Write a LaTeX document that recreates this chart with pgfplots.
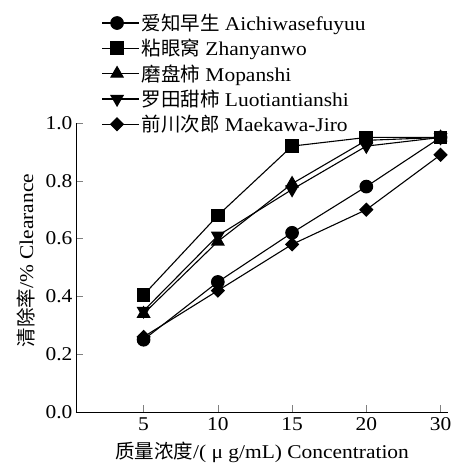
\documentclass[border=0pt]{standalone}
\usepackage{fontspec}
\setmainfont{Liberation Serif}[FakeStretch=1.1]
\newfontfamily\cjk{Noto Sans CJK SC}
\usepackage{pgfplots}
\pgfplotsset{compat=1.18}
\newcommand\fs{\fontsize{19.5}{22}\selectfont}
\begin{document}
\begin{tikzpicture}
\begin{axis}[
  scale only axis, width=372pt, height=289pt,
  axis lines=left,
  x axis line style={-}, y axis line style={-},
  xmin=0.09, xmax=5.1, ymin=0, ymax=1.0,
  xtick={1,2,3,4,5}, xticklabels={5,10,15,20,30},
  ytick={0,0.2,0.4,0.6,0.8,1.0},
  yticklabel style={/pgf/number format/.cd, fixed, fixed zerofill, precision=1},
  xticklabel style={yshift=-2pt},
  /pgf/number format/assume math mode=true,
  tick align=inside, major tick length=7pt,
  tick label style={font=\fs},
  label style={font=\fs},
  xlabel={{\cjk 质量浓度}/( μ g/mL) Concentration},
  ylabel={{\cjk 清除率}/\% Clearance},
  ylabel style={yshift=4pt, xshift=7pt},
  xlabel style={yshift=-4pt},
  legend cell align=left,
  legend style={draw=none, fill=none, font=\fs, anchor=south west,
    at={(axis description cs:0.06,0.95)}, row sep=3.3pt},
  legend image code/.code={\draw[mark repeat=2,mark phase=2] plot coordinates {(0pt,0pt)(15pt,0pt)(30pt,0pt)}; \path (30pt,0pt) -- (37pt,0pt);},
  clip=false,
]
\addplot[black, line width=1.1pt, mark=*, mark size=6.3pt, mark options={fill=black}] coordinates {(1,0.25)(2,0.45)(3,0.62)(4,0.78)(5,0.95)};
\addlegendentry{{\cjk 爱知早生} Aichiwasefuyuu}
\addplot[black, line width=1.1pt, mark=square*, mark size=6.3pt, mark options={fill=black}] coordinates {(1,0.405)(2,0.68)(3,0.92)(4,0.95)(5,0.95)};
\addlegendentry{{\cjk 粘眼窝} Zhanyanwo}
\addplot[black, line width=1.1pt, mark=triangle*, mark size=7pt, mark options={fill=black}] coordinates {(1,0.34)(2,0.59)(3,0.79)(4,0.94)(5,0.95)};
\addlegendentry{{\cjk 磨盘柿} Mopanshi}
\addplot[black, line width=1.1pt, mark=triangle*, mark size=7pt, mark options={fill=black, rotate=180}] coordinates {(1,0.35)(2,0.61)(3,0.77)(4,0.92)(5,0.95)};
\addlegendentry{{\cjk 罗田甜柿} Luotiantianshi}
\addplot[black, line width=1.1pt, mark=square*, mark size=4.5pt, mark options={fill=black, rotate=45}] coordinates {(1,0.26)(2,0.42)(3,0.58)(4,0.70)(5,0.89)};
\addlegendentry{{\cjk 前川次郎} Maekawa-Jiro}
\end{axis}
\path (current axis.south west) ++(-76pt,-54pt) rectangle ++(454pt,466pt);
\end{tikzpicture}
\end{document}
